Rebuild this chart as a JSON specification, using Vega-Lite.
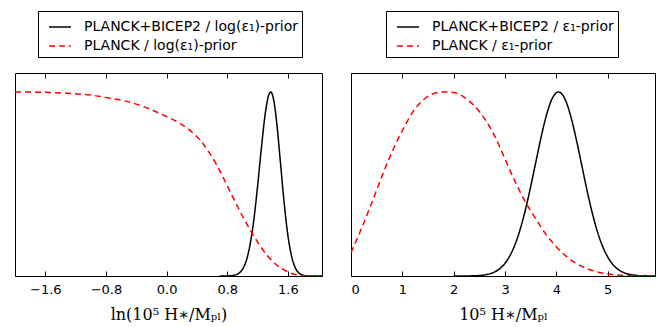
{
  "$schema": "https://vega.github.io/schema/vega-lite/v6.json",
  "padding": {"left": 14, "top": 10, "right": 5, "bottom": 2},
  "background": "white",
  "bounds": "flush",
  "spacing": 29,
  "config": {
    "view": {"stroke": "black", "strokeWidth": 1},
    "font": "DejaVu Sans",
    "axis": {"grid": false, "domain": false, "tickColor": "black", "tickSize": -5, "tickWidth": 1, "labelColor": "black", "labelFontSize": 13, "labelFont": "DejaVu Sans", "labelPadding": 12, "titleFont": "DejaVu Serif", "titleFontSize": 16, "titleFontWeight": "normal", "titleColor": "black", "titlePadding": 10},
    "legend": {"orient": "none", "direction": "vertical", "strokeColor": "black", "fillColor": "white", "padding": 4, "symbolType": "stroke", "symbolSize": 484, "symbolStrokeWidth": 1.5, "labelFontSize": 14, "labelColor": "black", "labelFont": "DejaVu Sans", "rowPadding": 0, "labelOffset": 12, "symbolOffset": 6, "labelLimit": 400, "legendY": -62}
  },
  "resolve": {"scale": {"color": "independent", "strokeDash": "independent", "x": "independent", "y": "independent"}, "legend": {"color": "independent", "strokeDash": "independent"}},
  "datasets": {
    "left": [
      {"s": "PLANCK+BICEP2", "x": 0.70, "d": 0},
      {"s": "PLANCK+BICEP2", "x": 0.80, "d": 0.0004},
      {"s": "PLANCK+BICEP2", "x": 0.90, "d": 0.005},
      {"s": "PLANCK+BICEP2", "x": 0.95, "d": 0.014},
      {"s": "PLANCK+BICEP2", "x": 1.00, "d": 0.036},
      {"s": "PLANCK+BICEP2", "x": 1.05, "d": 0.082},
      {"s": "PLANCK+BICEP2", "x": 1.10, "d": 0.168},
      {"s": "PLANCK+BICEP2", "x": 1.15, "d": 0.303},
      {"s": "PLANCK+BICEP2", "x": 1.20, "d": 0.487},
      {"s": "PLANCK+BICEP2", "x": 1.25, "d": 0.694},
      {"s": "PLANCK+BICEP2", "x": 1.30, "d": 0.878},
      {"s": "PLANCK+BICEP2", "x": 1.34, "d": 0.973},
      {"s": "PLANCK+BICEP2", "x": 1.374, "d": 1.0},
      {"s": "PLANCK+BICEP2", "x": 1.41, "d": 0.962},
      {"s": "PLANCK+BICEP2", "x": 1.45, "d": 0.843},
      {"s": "PLANCK+BICEP2", "x": 1.50, "d": 0.625},
      {"s": "PLANCK+BICEP2", "x": 1.55, "d": 0.400},
      {"s": "PLANCK+BICEP2", "x": 1.60, "d": 0.221},
      {"s": "PLANCK+BICEP2", "x": 1.65, "d": 0.105},
      {"s": "PLANCK+BICEP2", "x": 1.70, "d": 0.043},
      {"s": "PLANCK+BICEP2", "x": 1.75, "d": 0.015},
      {"s": "PLANCK+BICEP2", "x": 1.80, "d": 0.005},
      {"s": "PLANCK+BICEP2", "x": 1.85, "d": 0.001},
      {"s": "PLANCK+BICEP2", "x": 1.95, "d": 0},
      {"s": "PLANCK+BICEP2", "x": 2.05, "d": 0},
      {"s": "PLANCK", "x": -2.0, "d": 1.0},
      {"s": "PLANCK", "x": -1.6, "d": 0.998},
      {"s": "PLANCK", "x": -1.2, "d": 0.99},
      {"s": "PLANCK", "x": -1.0, "d": 0.983},
      {"s": "PLANCK", "x": -0.75, "d": 0.966},
      {"s": "PLANCK", "x": -0.5, "d": 0.946},
      {"s": "PLANCK", "x": -0.25, "d": 0.912},
      {"s": "PLANCK", "x": 0.0, "d": 0.866},
      {"s": "PLANCK", "x": 0.15, "d": 0.836},
      {"s": "PLANCK", "x": 0.3, "d": 0.794},
      {"s": "PLANCK", "x": 0.45, "d": 0.734},
      {"s": "PLANCK", "x": 0.56, "d": 0.672},
      {"s": "PLANCK", "x": 0.67, "d": 0.597},
      {"s": "PLANCK", "x": 0.78, "d": 0.507},
      {"s": "PLANCK", "x": 0.89, "d": 0.415},
      {"s": "PLANCK", "x": 1.0, "d": 0.326},
      {"s": "PLANCK", "x": 1.11, "d": 0.245},
      {"s": "PLANCK", "x": 1.22, "d": 0.172},
      {"s": "PLANCK", "x": 1.33, "d": 0.11},
      {"s": "PLANCK", "x": 1.44, "d": 0.064},
      {"s": "PLANCK", "x": 1.55, "d": 0.033},
      {"s": "PLANCK", "x": 1.65, "d": 0.014},
      {"s": "PLANCK", "x": 1.75, "d": 0.004},
      {"s": "PLANCK", "x": 1.85, "d": 0.001},
      {"s": "PLANCK", "x": 1.95, "d": 0},
      {"s": "PLANCK", "x": 2.05, "d": 0}
    ],
    "right": [
      {"s": "PLANCK+BICEP2", "x": 2.0, "d": 0},
      {"s": "PLANCK+BICEP2", "x": 2.2, "d": 0.0002},
      {"s": "PLANCK+BICEP2", "x": 2.4, "d": 0.0013},
      {"s": "PLANCK+BICEP2", "x": 2.6, "d": 0.006},
      {"s": "PLANCK+BICEP2", "x": 2.8, "d": 0.0224},
      {"s": "PLANCK+BICEP2", "x": 2.9, "d": 0.0404},
      {"s": "PLANCK+BICEP2", "x": 3.0, "d": 0.0692},
      {"s": "PLANCK+BICEP2", "x": 3.1, "d": 0.113},
      {"s": "PLANCK+BICEP2", "x": 3.2, "d": 0.175},
      {"s": "PLANCK+BICEP2", "x": 3.3, "d": 0.259},
      {"s": "PLANCK+BICEP2", "x": 3.4, "d": 0.364},
      {"s": "PLANCK+BICEP2", "x": 3.5, "d": 0.487},
      {"s": "PLANCK+BICEP2", "x": 3.6, "d": 0.620},
      {"s": "PLANCK+BICEP2", "x": 3.7, "d": 0.752},
      {"s": "PLANCK+BICEP2", "x": 3.8, "d": 0.868},
      {"s": "PLANCK+BICEP2", "x": 3.9, "d": 0.953},
      {"s": "PLANCK+BICEP2", "x": 4.0, "d": 0.996},
      {"s": "PLANCK+BICEP2", "x": 4.04, "d": 1.0},
      {"s": "PLANCK+BICEP2", "x": 4.1, "d": 0.991},
      {"s": "PLANCK+BICEP2", "x": 4.2, "d": 0.939},
      {"s": "PLANCK+BICEP2", "x": 4.3, "d": 0.846},
      {"s": "PLANCK+BICEP2", "x": 4.4, "d": 0.726},
      {"s": "PLANCK+BICEP2", "x": 4.5, "d": 0.593},
      {"s": "PLANCK+BICEP2", "x": 4.6, "d": 0.461},
      {"s": "PLANCK+BICEP2", "x": 4.7, "d": 0.341},
      {"s": "PLANCK+BICEP2", "x": 4.8, "d": 0.240},
      {"s": "PLANCK+BICEP2", "x": 4.9, "d": 0.161},
      {"s": "PLANCK+BICEP2", "x": 5.0, "d": 0.103},
      {"s": "PLANCK+BICEP2", "x": 5.1, "d": 0.0623},
      {"s": "PLANCK+BICEP2", "x": 5.2, "d": 0.036},
      {"s": "PLANCK+BICEP2", "x": 5.3, "d": 0.0198},
      {"s": "PLANCK+BICEP2", "x": 5.4, "d": 0.0104},
      {"s": "PLANCK+BICEP2", "x": 5.5, "d": 0.0052},
      {"s": "PLANCK+BICEP2", "x": 5.6, "d": 0.0025},
      {"s": "PLANCK+BICEP2", "x": 5.75, "d": 0.0007},
      {"s": "PLANCK+BICEP2", "x": 5.92, "d": 0},
      {"s": "PLANCK", "x": 0.0, "d": 0.127},
      {"s": "PLANCK", "x": 0.2, "d": 0.255},
      {"s": "PLANCK", "x": 0.4, "d": 0.395},
      {"s": "PLANCK", "x": 0.6, "d": 0.54},
      {"s": "PLANCK", "x": 0.8, "d": 0.675},
      {"s": "PLANCK", "x": 1.0, "d": 0.79},
      {"s": "PLANCK", "x": 1.2, "d": 0.89},
      {"s": "PLANCK", "x": 1.4, "d": 0.955},
      {"s": "PLANCK", "x": 1.6, "d": 0.99},
      {"s": "PLANCK", "x": 1.8, "d": 1.0},
      {"s": "PLANCK", "x": 2.0, "d": 0.997},
      {"s": "PLANCK", "x": 2.2, "d": 0.972},
      {"s": "PLANCK", "x": 2.4, "d": 0.925},
      {"s": "PLANCK", "x": 2.6, "d": 0.855},
      {"s": "PLANCK", "x": 2.8, "d": 0.76},
      {"s": "PLANCK", "x": 3.0, "d": 0.635},
      {"s": "PLANCK", "x": 3.2, "d": 0.51},
      {"s": "PLANCK", "x": 3.4, "d": 0.40},
      {"s": "PLANCK", "x": 3.6, "d": 0.31},
      {"s": "PLANCK", "x": 3.8, "d": 0.225},
      {"s": "PLANCK", "x": 4.0, "d": 0.158},
      {"s": "PLANCK", "x": 4.2, "d": 0.105},
      {"s": "PLANCK", "x": 4.4, "d": 0.066},
      {"s": "PLANCK", "x": 4.6, "d": 0.04},
      {"s": "PLANCK", "x": 4.8, "d": 0.022},
      {"s": "PLANCK", "x": 5.0, "d": 0.011},
      {"s": "PLANCK", "x": 5.2, "d": 0.005},
      {"s": "PLANCK", "x": 5.5, "d": 0.001},
      {"s": "PLANCK", "x": 5.92, "d": 0}
    ]
  },
  "hconcat": [
    {
      "width": 307,
      "height": 203,
      "data": {"name": "left"},
      "encoding": {
        "y": {"field": "d", "type": "quantitative", "scale": {"domain": [0, 1.103], "nice": false}, "axis": null},
        "color": {"field": "s", "type": "nominal", "scale": {"domain": ["PLANCK+BICEP2", "PLANCK"], "range": ["black", "red"]}, "legend": {"legendX": 23, "title": null, "labelExpr": "datum.label + ' / log(ε₁)-prior'"}},
        "strokeDash": {"field": "s", "type": "nominal", "scale": {"domain": ["PLANCK+BICEP2", "PLANCK"], "range": [[1, 0], [6, 4]]}, "legend": {"legendX": 23, "title": null, "labelExpr": "datum.label + ' / log(ε₁)-prior'"}}
      },
      "layer": [
        {
          "transform": [{"filter": "datum.s == 'PLANCK+BICEP2'"}],
          "mark": {"type": "line", "strokeWidth": 1.5, "interpolate": "monotone", "clip": true},
          "encoding": {
            "x": {"field": "x", "type": "quantitative", "scale": {"domain": [-2.0, 2.05], "nice": false, "zero": false}, "axis": {"orient": "bottom", "values": [-1.6, -0.8, 0, 0.8, 1.6], "format": ".1f", "title": "ln(10⁵ H∗/Mₚₗ)"}}
          }
        },
        {
          "transform": [{"filter": "datum.s == 'PLANCK'"}],
          "mark": {"type": "line", "strokeWidth": 1.5, "interpolate": "monotone", "clip": true},
          "encoding": {
            "x": {"field": "x", "type": "quantitative", "scale": {"domain": [-2.0, 2.05], "nice": false, "zero": false}, "axis": {"orient": "top", "values": [-1.6, -0.8, 0, 0.8, 1.6], "labels": false, "title": null}}
          }
        }
      ]
    },
    {
      "width": 304,
      "height": 203,
      "data": {"name": "right"},
      "encoding": {
        "y": {"field": "d", "type": "quantitative", "scale": {"domain": [0, 1.103], "nice": false}, "axis": null},
        "color": {"field": "s", "type": "nominal", "scale": {"domain": ["PLANCK+BICEP2", "PLANCK"], "range": ["black", "red"]}, "legend": {"legendX": 35, "title": null, "labelExpr": "datum.label + ' / ε₁-prior'"}},
        "strokeDash": {"field": "s", "type": "nominal", "scale": {"domain": ["PLANCK+BICEP2", "PLANCK"], "range": [[1, 0], [6, 4]]}, "legend": {"legendX": 35, "title": null, "labelExpr": "datum.label + ' / ε₁-prior'"}}
      },
      "layer": [
        {
          "transform": [{"filter": "datum.s == 'PLANCK+BICEP2'"}],
          "mark": {"type": "line", "strokeWidth": 1.5, "interpolate": "monotone", "clip": true},
          "encoding": {
            "x": {"field": "x", "type": "quantitative", "scale": {"domain": [0, 5.92], "nice": false, "zero": false}, "axis": {"orient": "bottom", "values": [0, 1, 2, 3, 4, 5], "format": "d", "title": "10⁵ H∗/Mₚₗ"}}
          }
        },
        {
          "transform": [{"filter": "datum.s == 'PLANCK'"}],
          "mark": {"type": "line", "strokeWidth": 1.5, "interpolate": "monotone", "clip": true},
          "encoding": {
            "x": {"field": "x", "type": "quantitative", "scale": {"domain": [0, 5.92], "nice": false, "zero": false}, "axis": {"orient": "top", "values": [0, 1, 2, 3, 4, 5], "labels": false, "title": null}}
          }
        }
      ]
    }
  ]
}
